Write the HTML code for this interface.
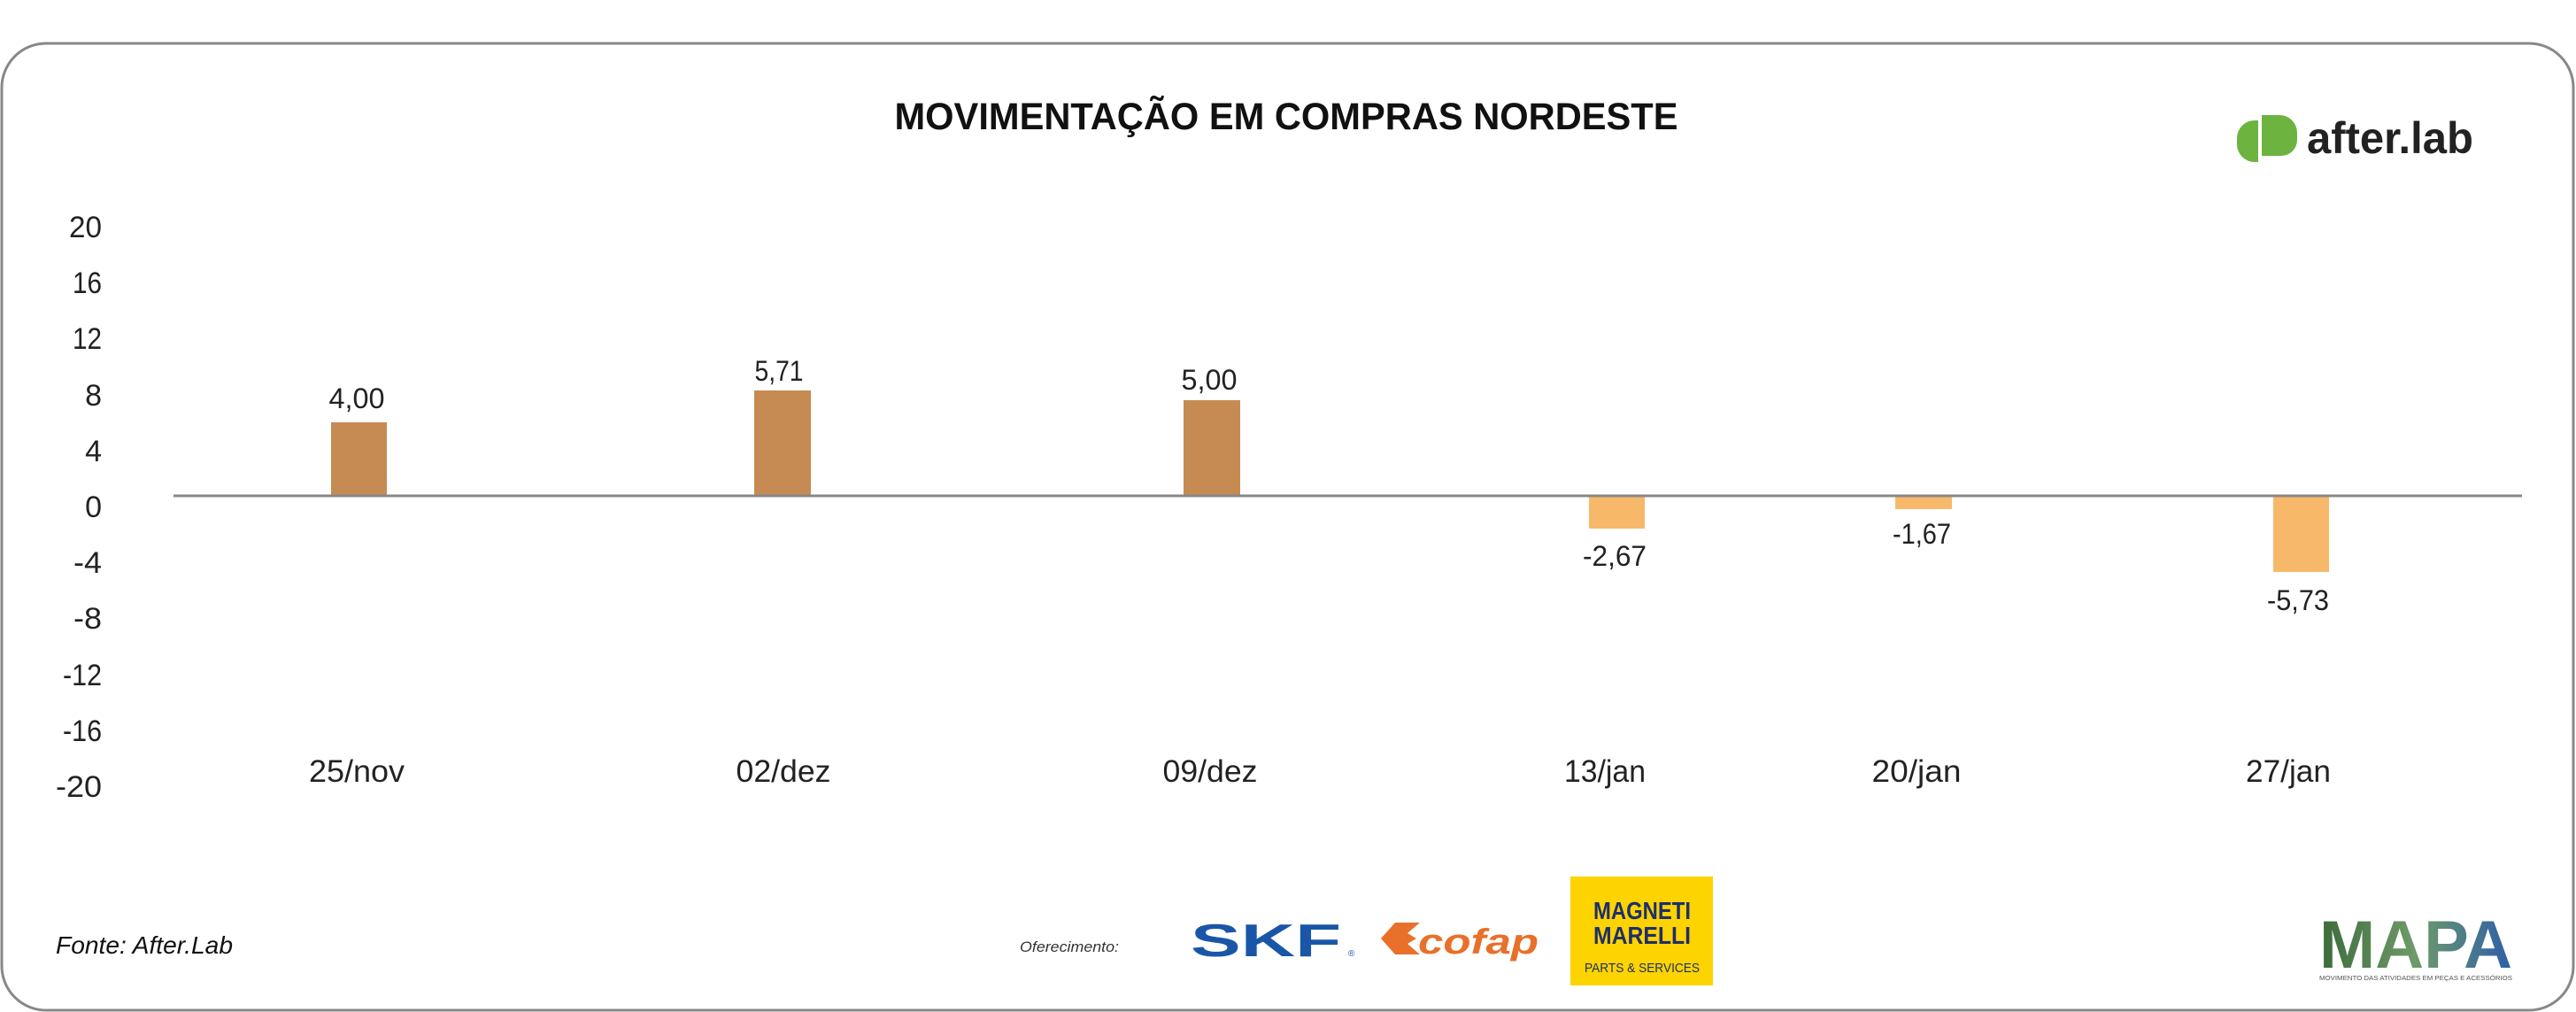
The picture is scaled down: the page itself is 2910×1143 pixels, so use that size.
<!DOCTYPE html>
<html><head><meta charset="utf-8"><style>
html,body{margin:0;padding:0;background:#fff;}
svg{display:block;}
text{font-family:"Liberation Sans",sans-serif;}
</style></head><body>
<svg width="2910" height="1143" viewBox="0 0 2910 1143" xmlns="http://www.w3.org/2000/svg">
<rect x="2" y="49" width="2905" height="1092" rx="50" ry="50" fill="#fff" stroke="#888" stroke-width="3"/>
<text x="1453" y="146" text-anchor="middle" font-size="43" font-weight="bold" fill="#111" textLength="885" lengthAdjust="spacingAndGlyphs">MOVIMENTAÇÃO EM COMPRAS NORDESTE</text>
<path d="M2555 130 h20 a20 20 0 0 1 20 20 v8 a18 18 0 0 1 -18 18 h-22 z" fill="#6cb33f"/>
<path d="M2551 136 v47 h-4 a20 20 0 0 1 -20 -20 v-7 a20 20 0 0 1 20 -20 z" fill="#6cb33f"/>
<text x="2606" y="173" font-size="50" font-weight="bold" fill="#222" textLength="188" lengthAdjust="spacingAndGlyphs">after.lab</text>
<g font-size="34" fill="#222" text-anchor="end">
<text x="115" y="268" textLength="37" lengthAdjust="spacingAndGlyphs">20</text><text x="115" y="331" textLength="33" lengthAdjust="spacingAndGlyphs">16</text><text x="115" y="394" textLength="33" lengthAdjust="spacingAndGlyphs">12</text>
<text x="115" y="458">8</text><text x="115" y="521">4</text><text x="115" y="584">0</text>
<text x="115" y="647" textLength="32" lengthAdjust="spacingAndGlyphs">-4</text><text x="115" y="710" textLength="32" lengthAdjust="spacingAndGlyphs">-8</text><text x="115" y="774" textLength="44" lengthAdjust="spacingAndGlyphs">-12</text>
<text x="115" y="837" textLength="44" lengthAdjust="spacingAndGlyphs">-16</text><text x="115" y="900" textLength="52" lengthAdjust="spacingAndGlyphs">-20</text>
</g>
<rect x="374" y="477" width="63" height="83" fill="#c58b52"/>
<rect x="852" y="441" width="64" height="119" fill="#c58b52"/>
<rect x="1337" y="452" width="64" height="108" fill="#c58b52"/>
<rect x="1795" y="561" width="63" height="36" fill="#f8b86a"/>
<rect x="2141" y="561" width="64" height="14" fill="#f8b86a"/>
<rect x="2568" y="561" width="63" height="85" fill="#f8b86a"/>
<line x1="196" y1="560" x2="2849" y2="560" stroke="#888" stroke-width="3"/>
<g font-size="32" fill="#222" text-anchor="middle">
<text x="403" y="461" textLength="63" lengthAdjust="spacingAndGlyphs">4,00</text><text x="880" y="430" textLength="55" lengthAdjust="spacingAndGlyphs">5,71</text><text x="1366" y="440" textLength="63" lengthAdjust="spacingAndGlyphs">5,00</text>
<text x="1824" y="639" textLength="72" lengthAdjust="spacingAndGlyphs">-2,67</text><text x="2171" y="614" textLength="66" lengthAdjust="spacingAndGlyphs">-1,67</text><text x="2596" y="689" textLength="70" lengthAdjust="spacingAndGlyphs">-5,73</text>
</g>
<g font-size="35" fill="#222" text-anchor="middle">
<text x="403" y="883" textLength="108" lengthAdjust="spacingAndGlyphs">25/nov</text><text x="885" y="883" textLength="107" lengthAdjust="spacingAndGlyphs">02/dez</text><text x="1367" y="883" textLength="107" lengthAdjust="spacingAndGlyphs">09/dez</text>
<text x="1813" y="883" textLength="92" lengthAdjust="spacingAndGlyphs">13/jan</text><text x="2165" y="883" textLength="101" lengthAdjust="spacingAndGlyphs">20/jan</text><text x="2585" y="883" textLength="96" lengthAdjust="spacingAndGlyphs">27/jan</text>
</g>
<text x="63" y="1077" font-size="28" font-style="italic" fill="#111" textLength="200" lengthAdjust="spacingAndGlyphs">Fonte: After.Lab</text>
<text x="1152" y="1075" font-size="17" font-style="italic" fill="#333" textLength="112" lengthAdjust="spacingAndGlyphs">Oferecimento:</text>
<text x="1345" y="1080" font-size="52" font-weight="bold" fill="#1a56a8" textLength="170" lengthAdjust="spacingAndGlyphs">SKF</text>
<text x="1523" y="1080" font-size="10" fill="#1a56a8">®</text>
<path d="M1560 1060 l16 -18 h28 l-14 12 l10 6 l-10 6 l14 12 h-28 z" fill="#e8702a"/>
<text x="1602" y="1077" font-size="40" font-weight="bold" font-style="italic" fill="#e8702a" textLength="136" lengthAdjust="spacingAndGlyphs">cofap</text>
<rect x="1774" y="990" width="161" height="123" fill="#fdd300"/>
<text x="1855" y="1038" font-size="28" font-weight="bold" fill="#1e2f6b" text-anchor="middle" textLength="110" lengthAdjust="spacingAndGlyphs">MAGNETI</text>
<text x="1855" y="1066" font-size="28" font-weight="bold" fill="#1e2f6b" text-anchor="middle" textLength="110" lengthAdjust="spacingAndGlyphs">MARELLI</text>
<text x="1855" y="1098" font-size="15" fill="#1e2f6b" text-anchor="middle" textLength="130" lengthAdjust="spacingAndGlyphs">PARTS &amp; SERVICES</text>
<defs><linearGradient id="mg" x1="0" x2="1" y1="0" y2="0"><stop offset="0" stop-color="#3c6b3a"/><stop offset="0.5" stop-color="#6f9a6a"/><stop offset="1" stop-color="#2d5fa8"/></linearGradient></defs>
<text x="2620" y="1093" font-size="76" font-weight="bold" fill="url(#mg)" textLength="218" lengthAdjust="spacingAndGlyphs">MAPA</text>
<text x="2620" y="1107" font-size="7" fill="#555" textLength="218" lengthAdjust="spacingAndGlyphs">MOVIMENTO DAS ATIVIDADES EM PEÇAS E ACESSÓRIOS</text>
</svg>
</body></html>
